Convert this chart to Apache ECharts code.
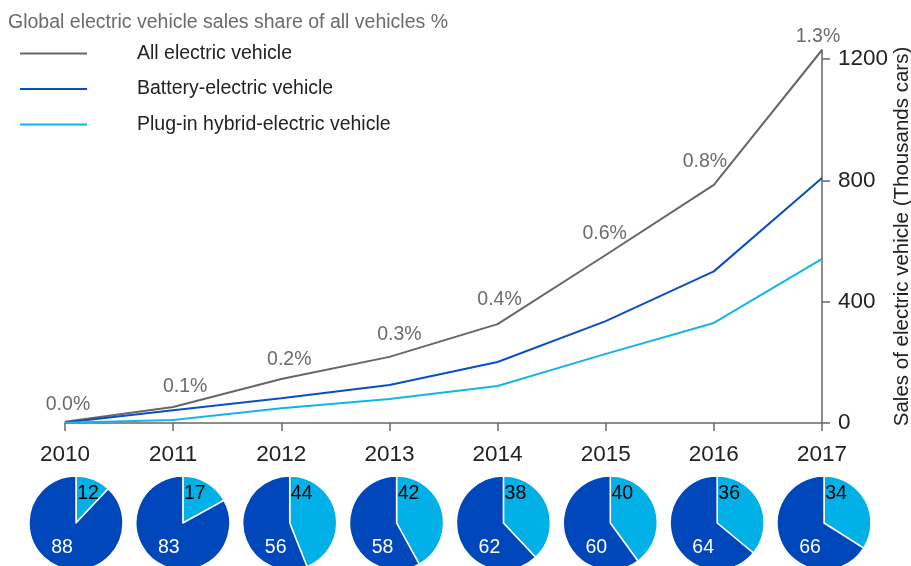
<!DOCTYPE html>
<html>
<head>
<meta charset="utf-8">
<script src="https://cdn.jsdelivr.net/npm/echarts@6/dist/echarts.min.js"></script>
<style>
  html, body { margin: 0; padding: 0; background: #fff; }
  #chart { width: 911px; height: 566px; }
</style>
</head>
<body>
<div id="chart"></div>
<script>
const years = ['2010', '2011', '2012', '2013', '2014', '2015', '2016', '2017'];
const allEV = [4, 53, 145, 218, 326, 554, 785, 1230];
const bev = [2, 42, 82, 125, 201, 336, 500, 808];
const phev = [1, 10, 49, 79, 122, 228, 330, 541];
const shareLabels = ['0.0%', '0.1%', '0.2%', '0.3%', '0.4%', '0.6%', '0.8%', '1.3%'];
const pieBev = [88, 83, 56, 58, 62, 60, 64, 66];
const piePhev = [12, 17, 44, 42, 38, 40, 36, 34];
const yTicks = [0, 400, 800, 1200];

const font = 'Liberation Sans, Arial, sans-serif';
const cGray = '#666666';
const cBev = '#0a4fc2';
const cPhev = '#14b4e8';
const pieDark = '#0047bb';
const pieLight = '#00b0e6';

var myChart = echarts.init(document.getElementById('chart'));

var option = {
    animation: false,
    textStyle: { fontFamily: font },
    title: {
        text: 'Global electric vehicle sales share of all vehicles %',
        left: 8,
        top: 13,
        padding: 0,
        textStyle: { fontFamily: font, fontSize: 19.5, fontWeight: 'normal', color: '#6b6b6b' }
    },
    legend: {
        orient: 'vertical',
        left: 20,
        top: 42,
        padding: 0,
        itemWidth: 67,
        itemHeight: 2,
        itemGap: 12.5,
        icon: 'rect',
        selectedMode: false,
        textStyle: { fontFamily: font, fontSize: 19.5, color: '#222', lineHeight: 20, padding: [3, 0, 0, 45] },
        data: ['All electric vehicle', 'Battery-electric vehicle', 'Plug-in hybrid-electric vehicle']
    },
    grid: { left: 65, right: 89, top: 50, bottom: 143, outerBoundsMode: 'none' },
    xAxis: {
        type: 'category',
        boundaryGap: false,
        data: years,
        axisLine: { lineStyle: { color: '#666', width: 1.5 } },
        axisTick: { length: 8, lineStyle: { color: '#666', width: 1.5 } },
        axisLabel: { margin: 20, fontSize: 22.5, color: '#222', fontFamily: font }
    },
    yAxis: {
        type: 'value',
        position: 'right',
        min: 0,
        max: 1230,
        interval: 400,
        splitLine: { show: false },
        axisLine: { show: true, lineStyle: { color: '#666', width: 1.5 } },
        axisTick: { show: true, length: 8, customValues: yTicks, lineStyle: { color: '#666', width: 1.5 } },
        axisLabel: {
            margin: 16, fontSize: 22.5, color: '#222', fontFamily: font, customValues: yTicks,
            formatter: function (v) { return String(v); }
        },
        name: 'Sales of electric vehicle (Thousands cars)',
        nameLocation: 'middle',
        nameRotate: 90,
        nameGap: 70,
        nameMoveOverlap: false,
        nameTextStyle: { fontSize: 20.5, color: '#222', fontFamily: font }
    },
    series: [
        {
            name: 'All electric vehicle',
            type: 'line',
            data: allEV,
            symbol: 'circle',
            symbolSize: 1,
            showSymbol: true,
            color: cGray,
            lineStyle: { width: 2, color: cGray },
            label: {
                show: true,
                position: 'top',
                distance: 9,
                fontSize: 19.5,
                color: '#6b6b6b',
                fontFamily: font,
                formatter: function (p) { return shareLabels[p.dataIndex]; }
            },
            labelLayout: function (p) {
                var dx = [3, 12, 8, 10, 2, -1, -9, -4][p.dataIndex];
                var dy = [2, -1, 0, -3, -5, -2, -4, 6][p.dataIndex];
                return { dx: dx, dy: dy };
            },
            z: 3
        },
        {
            name: 'Battery-electric vehicle',
            type: 'line',
            data: bev,
            symbol: 'none',
            color: cBev,
            lineStyle: { width: 2, color: cBev }
        },
        {
            name: 'Plug-in hybrid-electric vehicle',
            type: 'line',
            data: phev,
            symbol: 'none',
            color: cPhev,
            lineStyle: { width: 2, color: cPhev }
        }
    ]
};

myChart.setOption(option);

// pie row sits under the years, a little narrower than the axis
var x0 = myChart.convertToPixel({ xAxisIndex: 0 }, years[0]) + 11;
var x1 = myChart.convertToPixel({ xAxisIndex: 0 }, years[years.length - 1]) + 2;
var step = (x1 - x0) / (years.length - 1);

var pies = years.map(function (y, i) {
    return {
        type: 'pie',
        silent: true,
        radius: 47,
        center: [x0 + i * step, 523],
        startAngle: 90,
        clockwise: true,
        itemStyle: { borderColor: '#fff', borderWidth: 1.5 },
        label: { show: true, position: 'center', fontSize: 19.5, fontFamily: font },
        labelLine: { show: false },
        labelLayout: function (p) {
            return p.dataIndex === 0 ? { dx: 12, dy: -29 } : { dx: -14, dy: 25 };
        },
        data: [
            { value: piePhev[i], name: 'PHEV ' + y, itemStyle: { color: pieLight },
              label: { color: '#000', formatter: String(piePhev[i]) } },
            { value: pieBev[i], name: 'BEV ' + y, itemStyle: { color: pieDark },
              label: { color: '#fff', formatter: String(pieBev[i]) } }
        ]
    };
});

myChart.setOption({ series: option.series.concat(pies) });

window.addEventListener('resize', function () {
    myChart.resize();
});
</script>
</body>
</html>
